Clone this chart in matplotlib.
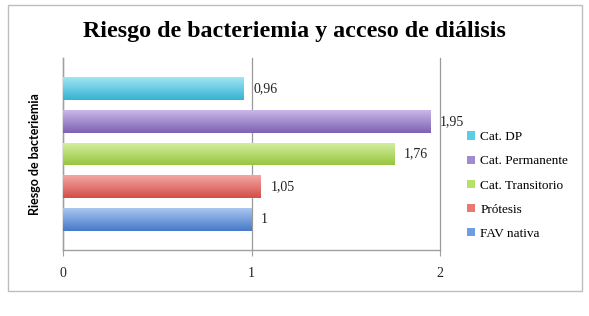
import matplotlib
matplotlib.use("Agg")
import matplotlib.pyplot as plt
import numpy as np
from matplotlib.colors import LinearSegmentedColormap
from matplotlib.patches import Rectangle

series = ["FAV nativa", "Prótesis", "Cat. Transitorio", "Cat. Permanente", "Cat. DP"]
values = [1.0, 1.05, 1.76, 1.95, 0.96]
labels = ["1", "1,05", "1,76", "1,95", "0,96"]
xticks = [0, 1, 2]
title = "Riesgo de bacteriemia y acceso de diálisis"
ylabel = "Riesgo de bacteriemia"

colors_mid = ["#6E9EE0", "#EC7773", "#B5E06A", "#A08AD0", "#5CCDE6"]
colors_top = ["#A9C7F0", "#F5A6A2", "#D6EFA3", "#C9B8E8", "#A0E5F4"]
colors_bot = ["#4679C8", "#D24E49", "#97C63F", "#7E62B2", "#36B2D2"]

fig = plt.figure(figsize=(5.89, 3.16), dpi=100)
# outer border
fig.patches.append(Rectangle((8/589, 1-291/316), (582-8)/589, (291-5)/316,
                             transform=fig.transFigure, fill=False,
                             edgecolor="#BDBDBD", linewidth=1.0))

ax = fig.add_axes([63/589, 1-250/316, (440-63)/589, (250-58)/316])
pos = np.arange(len(series))
h = 0.70
bars = ax.barh(pos, values, height=h, color=colors_mid, edgecolor="none", zorder=3)

for b, ctop, cbot in zip(bars, colors_top, colors_bot):
    cmap = LinearSegmentedColormap.from_list("g", [cbot, ctop])
    grad = np.linspace(0, 1, 64).reshape(-1, 1)
    x0, y0 = b.get_x(), b.get_y()
    w, hh = b.get_width(), b.get_height()
    im = ax.imshow(grad, cmap=cmap, aspect="auto", origin="lower",
                   extent=(x0, x0 + w, y0, y0 + hh), zorder=4)
    im.set_clip_path(b)

for p, v, l in zip(pos, values, labels):
    ax.text(v + 0.05, p, l, va="center", ha="left", fontsize=10,
            family="Liberation Serif", color="#222222", zorder=5)

ax.set_xlim(0, 2)
ax.set_ylim(-0.93, 4.93)
ax.set_xticks(xticks)
ax.set_xticklabels([str(t) for t in xticks], family="Liberation Serif", fontsize=10, color="#222222")
ax.set_yticks([])
ax.grid(axis="x", color="#9A9A9A", linewidth=0.9, zorder=0)
for gl in ax.get_xgridlines():
    gl.set_clip_on(False)
ax.set_axisbelow(True)
for s in ["top", "right"]:
    ax.spines[s].set_visible(False)
for s in ["left", "bottom"]:
    ax.spines[s].set_color("#A0A0A0")
    ax.spines[s].set_linewidth(1.0)
ax.tick_params(axis="x", length=4, color="#A0A0A0", pad=8)
ax.set_ylabel(ylabel, fontsize=9, fontweight="bold", family="Lato", labelpad=16)

fig.text(294/589, 1-31/316, title, ha="center", va="center", fontsize=17.3,
         fontweight="bold", family="Liberation Serif")

handles = [Rectangle((0, 0), 1, 1, facecolor=c) for c in colors_mid]
leg = fig.legend(handles[::-1], series[::-1], loc="upper left",
                 bbox_to_anchor=(462/589, 1-126/316), frameon=False,
                 prop={"family": "Liberation Serif", "size": 9.5},
                 handlelength=0.6, handleheight=0.6, handletextpad=0.4,
                 labelspacing=0.92, borderaxespad=0)

fig.savefig("out.png", dpi=100)
